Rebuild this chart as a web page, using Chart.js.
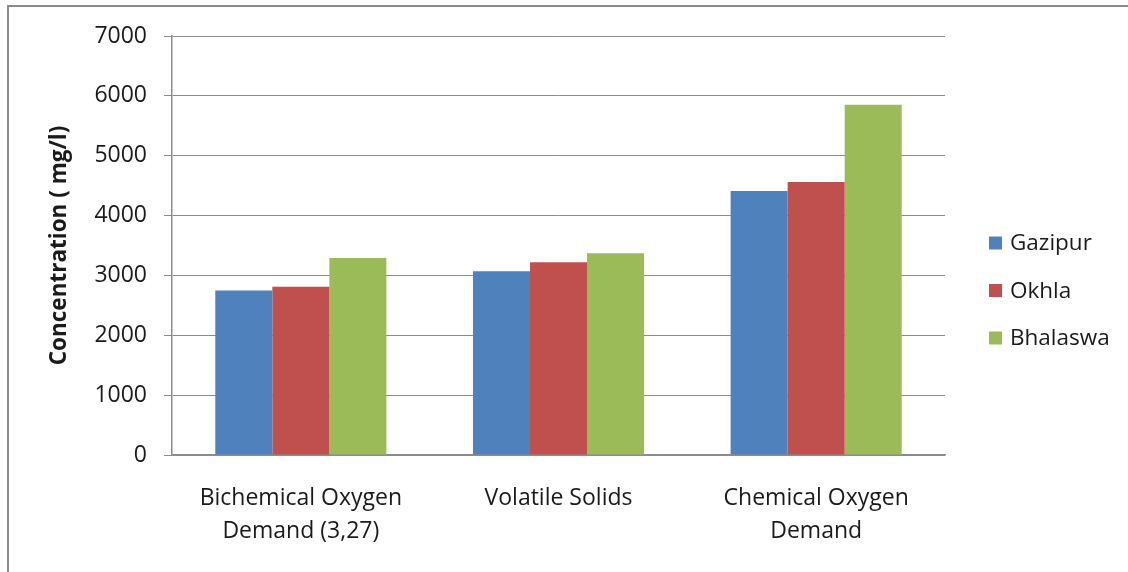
<!DOCTYPE html>
<html>
<head>
<meta charset="utf-8">
<title>Leachate concentration</title>
<script src="https://cdn.jsdelivr.net/npm/chart.js@4.4.0/dist/chart.umd.min.js"></script>
<style>
  html, body { margin: 0; padding: 0; background: #fff; overflow: hidden; }
  #wrap { position: relative; width: 1128px; height: 572px; }
  #frame {
    position: absolute; left: 7px; top: 5px; right: -10px; bottom: -10px;
    border-left: 2px solid #8c8c8c; border-top: 2px solid #8c8c8c;
    pointer-events: none;
  }
</style>
</head>
<body>
<div id="wrap">
  <canvas id="chart" width="1128" height="572"></canvas>
  <div id="frame"></div>
</div>
<script>
// parameters on the x axis
const categories = [
  ['Bichemical Oxygen', 'Demand (3,27)'],
  'Volatile Solids',
  ['Chemical Oxygen', 'Demand']
];

// landfill sites, mg/l
const gazipur = [2750, 3070, 4410];
const okhla = [2810, 3220, 4560];
const bhalaswa = [3290, 3370, 5850];

const yTicks = [0, 1000, 2000, 3000, 4000, 5000, 6000, 7000];

const seriesNames = ['Gazipur', 'Okhla', 'Bhalaswa'];
const seriesColors = ['#4f81bd', '#c0504d', '#9bbb59'];

const gridColor = '#8c8c8c';
const textColor = '#1a1a1a';

// legend on the right, drawn from the datasets
const sideLegend = {
  id: 'sideLegend',
  afterDraw(chart) {
    const ctx = chart.ctx;
    const x = 989;
    const top = 243;
    const step = 47.5;
    ctx.save();
    ctx.font = '22.5px "Open Sans"';
    ctx.textBaseline = 'middle';
    ctx.textAlign = 'left';
    chart.data.datasets.forEach((ds, i) => {
      const y = top + i * step;
      ctx.fillStyle = ds.backgroundColor;
      ctx.fillRect(x, y - 6.5, 13, 13);
      ctx.fillStyle = textColor;
      ctx.fillText(ds.label, x + 21, y + 1);
    });
    ctx.restore();
  }
};

const datasets = [gazipur, okhla, bhalaswa].map((values, i) => ({
  label: seriesNames[i],
  data: values,
  backgroundColor: seriesColors[i],
  borderWidth: 0,
  barPercentage: 1.0,
  categoryPercentage: 0.664
}));

const ctx = document.getElementById('chart').getContext('2d');
new Chart(ctx, {
  type: 'bar',
  data: { labels: categories, datasets: datasets },
  options: {
    responsive: false,
    animation: false,
    layout: { padding: { left: 8, right: 183, top: 36, bottom: 0 } },
    plugins: {
      legend: { display: false },
      tooltip: { enabled: false }
    },
    scales: {
      x: {
        grid: { display: false, drawTicks: false },
        border: { display: true, color: gridColor, width: 1.5 },
        ticks: {
          color: textColor,
          font: { family: 'Open Sans', size: 23, lineHeight: 1.43 },
          padding: 27,
          maxRotation: 0,
          autoSkip: false
        },
        afterFit(scale) { scale.height = 117; }
      },
      y: {
        min: 0,
        max: 7000,
        afterBuildTicks(scale) { scale.ticks = yTicks.map(v => ({ value: v })); },
        grid: { color: gridColor, lineWidth: 1, tickLength: 8 },
        border: { display: true, color: gridColor, width: 1.5 },
        ticks: {
          color: textColor,
          font: { family: 'Open Sans', size: 23 },
          padding: 17,
          callback: (value) => String(value)
        },
        title: {
          display: true,
          text: 'Concentration ( mg/l)',
          color: textColor,
          font: { family: 'Open Sans', size: 22.5, weight: 'bold' },
          padding: { top: 38, bottom: 0 }
        },
        afterFit(scale) { scale.width = 164; }
      }
    }
  },
  plugins: [sideLegend]
});
</script>
</body>
</html>
